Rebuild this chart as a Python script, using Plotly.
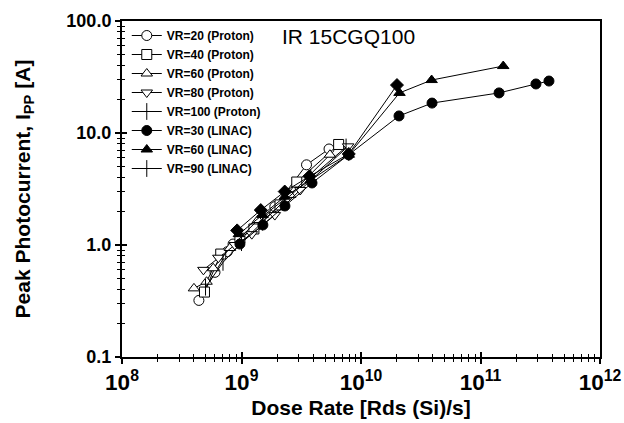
import plotly.graph_objects as go

# ---- data ----
p20_x = [4.4e8, 6.0e8, 7.6e8, 8.5e8, 1.3e9, 1.9e9, 3.5e9, 5.4e9]
p20_y = [0.32, 0.57, 0.87, 1.02, 1.45, 2.2, 5.2, 7.2]

p40_x = [4.9e8, 6.7e8, 9.7e8, 1.27e9, 2.1e9, 2.9e9, 6.5e9]
p40_y = [0.38, 0.83, 1.15, 1.39, 2.28, 3.65, 7.9]

p60_x = [4.0e8, 5.1e8, 5.8e8, 8.0e8, 1.37e9, 2.55e9, 5.5e9]
p60_y = [0.41, 0.47, 0.62, 0.94, 1.67, 2.8, 6.4]

p80_x = [4.8e8, 6.4e8, 8.8e8, 1.22e9, 1.9e9, 3.1e9, 7.8e9]
p80_y = [0.60, 0.77, 1.0, 1.25, 1.85, 3.1, 7.6]

p100_x = [5.0e8, 7.0e8, 1.0e9, 1.5e9, 2.3e9, 3.8e9, 7.5e9]
p100_y = [0.42, 0.70, 1.05, 1.6, 2.5, 4.0, 7.5]

l30_x = [9.7e8, 1.51e9, 2.31e9, 3.89e9, 7.9e9, 2.08e10, 3.93e10, 1.43e11, 2.91e11, 3.74e11]
l30_y = [1.02, 1.51, 2.23, 3.58, 6.37, 14.2, 18.5, 22.8, 27.4, 29.1]

l60_x = [9.5e8, 1.5e9, 2.3e9, 3.8e9, 7.9e9, 2.1e10, 3.9e10, 1.55e11]
l60_y = [1.25, 1.85, 2.7, 3.8, 6.4, 22.8, 29.7, 39.6]

l90_x = [9.2e8, 1.45e9, 2.3e9, 3.7e9, 7.9e9, 2.0e10]
l90_y = [1.35, 2.05, 3.0, 4.1, 6.5, 26.8]

x_range_log = [8, 12]
y_range_log = [-1, 2]

FONT = "Liberation Sans, Arial, sans-serif"

fig = go.Figure()

def add(name, xs, ys, symbol, fill, size=10, show=True):
    fig.add_trace(go.Scatter(
        x=xs, y=ys, name=name, mode="lines+markers", showlegend=show,
        line=dict(color="black", width=1),
        marker=dict(symbol=symbol, size=size, color=fill,
                    line=dict(color="black", width=1)),
    ))

add("VR=20 (Proton)", p20_x, p20_y, "circle", "white")
add("VR=40 (Proton)", p40_x, p40_y, "square", "white")
add("VR=60 (Proton)", p60_x, p60_y, "triangle-up", "white")
add("VR=80 (Proton)", p80_x, p80_y, "triangle-down", "white")
add("VR=100 (Proton)", p100_x, p100_y, "line-ns", "black", size=12)
add("VR=30 (LINAC)", l30_x, l30_y, "circle", "black")
add("VR=60 (LINAC)", l60_x, l60_y, "triangle-up", "black")
# legend proxy for VR=90 (LINAC)
fig.add_trace(go.Scatter(x=[None], y=[None], name="VR=90 (LINAC)", mode="lines+markers",
                         line=dict(color="black", width=1),
                         marker=dict(symbol="line-ns", size=12,
                                     line=dict(color="black", width=1))))
add("VR=90 (LINAC)", l90_x, l90_y, "diamond", "black", show=False)

# empty trace for the overlay axes (inside ticks -> crossing ticks)
fig.add_trace(go.Scatter(x=[], y=[], xaxis="x2", yaxis="y2", showlegend=False, hoverinfo="skip"))

tickfont = dict(family=FONT, size=18, color="black", weight="bold")

fig.update_layout(
    width=624, height=423,
    margin=dict(l=122, r=24, t=21, b=66),
    paper_bgcolor="white", plot_bgcolor="white",
    font=dict(family=FONT, color="black"),
    xaxis=dict(
        type="log", range=x_range_log, dtick=1, exponentformat="power",
        showgrid=False, zeroline=False, automargin=False,
        showline=True, linecolor="black", linewidth=2, mirror=True,
        ticks="outside", ticklen=5, tickwidth=1.5, tickcolor="black",
        minor=dict(ticks="outside", ticklen=3, dtick="D1", tickcolor="black", tickwidth=1, showgrid=False),
        tickfont=tickfont,
        title=dict(text="<b>Dose Rate [Rds (Si)/s]</b>", font=dict(family=FONT, size=21), standoff=6),
    ),
    yaxis=dict(
        type="log", range=y_range_log, dtick=1, tickformat=".1f",
        showgrid=False, zeroline=False, automargin=False,
        showline=True, linecolor="black", linewidth=2, mirror=True,
        ticks="outside", ticklen=5, tickwidth=1.5, tickcolor="black",
        minor=dict(ticks="outside", ticklen=3, dtick="D1", tickcolor="black", tickwidth=1, showgrid=False),
        tickfont=tickfont,
        title=dict(text="<b>Peak Photocurrent, I<sub>PP</sub> [A]</b>", font=dict(family=FONT, size=21), standoff=30),
    ),
    xaxis2=dict(
        type="log", range=x_range_log, dtick=1, overlaying="x", anchor="y", side="bottom",
        showgrid=False, zeroline=False, showline=False, showticklabels=False, automargin=False,
        ticks="inside", ticklen=5, tickwidth=1.5, tickcolor="black",
        minor=dict(ticks="inside", ticklen=3, dtick="D1", tickcolor="black", tickwidth=1, showgrid=False),
    ),
    yaxis2=dict(
        type="log", range=y_range_log, dtick=1, overlaying="y", anchor="x", side="left",
        showgrid=False, zeroline=False, showline=False, showticklabels=False, automargin=False,
        ticks="inside", ticklen=5, tickwidth=1.5, tickcolor="black",
        minor=dict(ticks="inside", ticklen=3, dtick="D1", tickcolor="black", tickwidth=1, showgrid=False),
    ),
    legend=dict(
        x=0.01, y=1.0, xanchor="left", yanchor="top",
        bgcolor="rgba(0,0,0,0)", borderwidth=0,
        font=dict(family=FONT, size=12, color="black", weight="bold"),
        tracegroupgap=0, itemwidth=30,
    ),
    annotations=[dict(
        text="IR 15CGQ100", xref="paper", yref="paper", x=0.33, y=0.995,
        xanchor="left", yanchor="top", showarrow=False,
        font=dict(family=FONT, size=21, color="black"),
    )],
)

fig.write_html("out.html")
